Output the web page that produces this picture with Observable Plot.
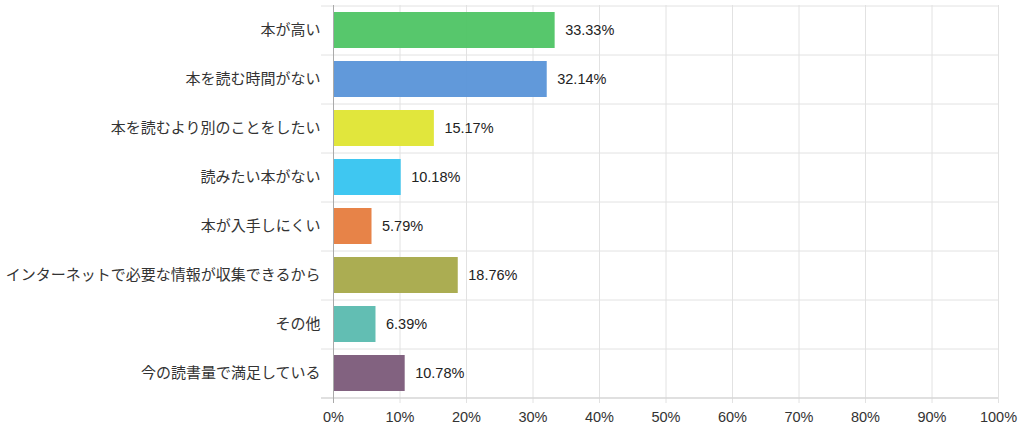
<!DOCTYPE html>
<html>
<head>
<meta charset="utf-8">
<script src="https://cdn.jsdelivr.net/npm/d3@7"></script>
<script src="https://cdn.jsdelivr.net/npm/@observablehq/plot@0.6"></script>
<style>
  html, body { margin: 0; padding: 0; background: #fff; }
  #chart svg { display: block; }
</style>
</head>
<body>
<div id="chart"></div>
<script>
const categories = [
  "本が高い",
  "本を読む時間がない",
  "本を読むより別のことをしたい",
  "読みたい本がない",
  "本が入手しにくい",
  "インターネットで必要な情報が収集できるから",
  "その他",
  "今の読書量で満足している"
];
const values = [33.33, 32.14, 15.17, 10.18, 5.79, 18.76, 6.39, 10.78];
const colors = ["#50c566", "#5b95d8", "#e0e534", "#37c5f0", "#e67e41", "#a8aa4b", "#5cbbb0", "#7d5c7b"];
const xTicks = [0, 10, 20, 30, 40, 50, 60, 70, 80, 90, 100];

const data = categories.map((c, i) => ({cat: c, value: values[i], color: colors[i]}));

// shift band-centered rules to band boundaries using the y scale's step
function toBoundary(sign) {
  return function(index, scales, values, dims, context, next) {
    const g = next(index, scales, values, dims, context);
    const step = scales.y(categories[1]) - scales.y(categories[0]);
    const existing = g.getAttribute("transform") || "";
    g.setAttribute("transform", `translate(0,${sign * step / 2}) ${existing}`);
    return g;
  };
}

const chart = Plot.plot({
  width: 1024,
  height: 430,
  marginTop: 5,
  marginBottom: 33,
  marginLeft: 333,
  marginRight: 26,
  style: {fontFamily: "'Liberation Sans', Arial, 'Noto Sans CJK JP', sans-serif", fontSize: "15px", color: "#333", background: "#fff"},
  x: {domain: [0, 100]},
  y: {domain: categories, paddingInner: 0.27, paddingOuter: 0.135},
  marks: [
    Plot.ruleX(xTicks, {x: d => d, stroke: "#e2e2e2", strokeWidth: 1, insetBottom: -6}),
    Plot.ruleY(categories, {y: d => d, stroke: "#e2e2e2", insetLeft: -12, render: toBoundary(-1)}),
    Plot.ruleY([categories[categories.length - 1]], {y: d => d, stroke: "#d6d6d6", strokeWidth: 1.5, insetLeft: -12, render: toBoundary(1)}),
    Plot.barX(data, {y: "cat", x: "value", fill: "color", fillOpacity: 0.96}),
    Plot.ruleX([0], {stroke: "#aaa", insetBottom: -6}),
    Plot.text(data, {y: "cat", x: "value", text: d => d.value.toFixed(2) + "%", textAnchor: "start", dx: 10, fill: "#222", fontSize: 14.5}),
    Plot.axisY({tickSize: 0, tickPadding: 13, label: null, fill: "#333", fontSize: 15}),
    Plot.axisX({ticks: xTicks, tickSize: 0, tickPadding: 14, tickFormat: d => d + "%", label: null, fill: "#333", fontSize: 14.5})
  ]
});
document.getElementById("chart").appendChild(chart);
</script>
</body>
</html>
